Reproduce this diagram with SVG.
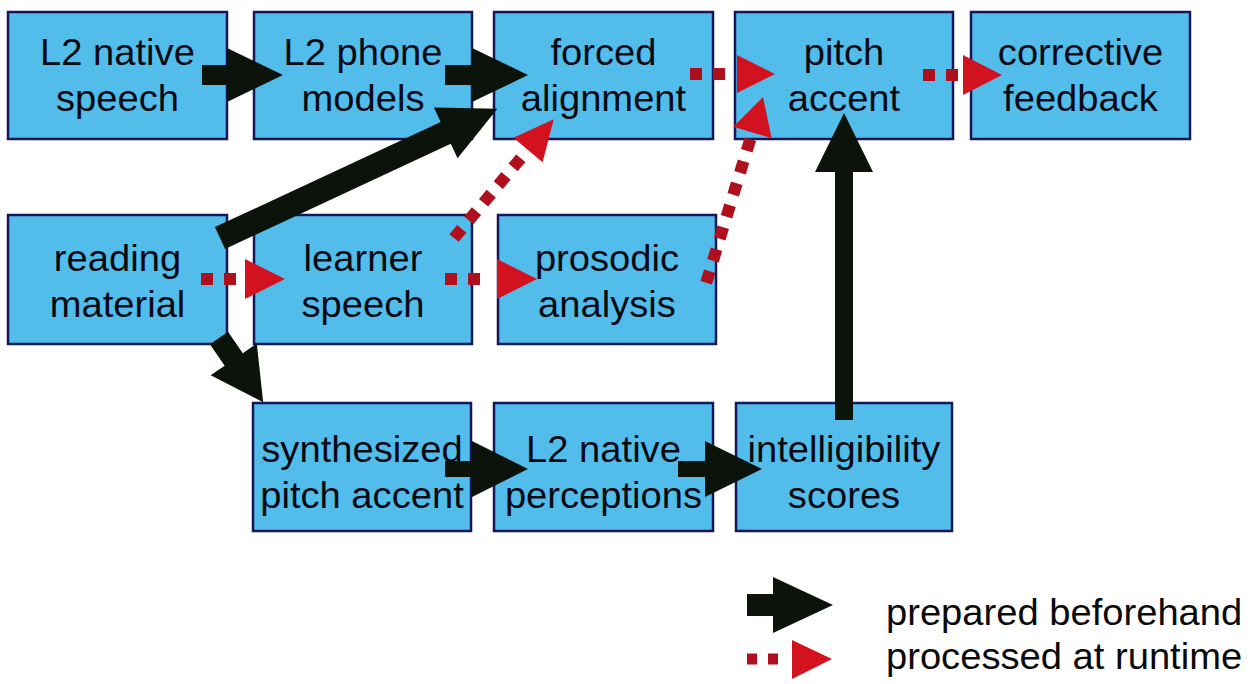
<svg xmlns="http://www.w3.org/2000/svg" width="1253" height="684" viewBox="0 0 1253 684">
  <style>
    .box { fill: #52bdea; stroke: #16165a; stroke-width: 2.5; }
    .lbl { font-family: "Liberation Sans", Arial, sans-serif; font-size: 36px; fill: #0a0a14; text-anchor: middle;
           transform-box: fill-box; transform-origin: center; transform: scaleX(1.06); }
    .leg { font-family: "Liberation Sans", Arial, sans-serif; font-size: 36px; fill: #0a0a0a;
           transform-box: fill-box; transform-origin: left center; transform: scaleX(1.06); }
    .solid { fill: #0b130b; }
    .dots { stroke: #b0101e; stroke-width: 12; stroke-dasharray: 12 11; fill: none; }
    .head { fill: #d3121f; }
  </style>
  <rect width="1253" height="684" fill="#ffffff"/>

  <!-- row 1 -->
  <g id="l2-native-speech">
    <rect class="box" x="8" y="12" width="219" height="127"/>
    <text class="lbl" x="117.5" y="65">L2 native</text>
    <text class="lbl" x="117.5" y="111">speech</text>
  </g>
  <g id="l2-phone-models">
    <rect class="box" x="254" y="12" width="218" height="127"/>
    <text class="lbl" x="363" y="65">L2 phone</text>
    <text class="lbl" x="363" y="111">models</text>
  </g>
  <g id="forced-alignment">
    <rect class="box" x="494" y="12" width="219" height="127"/>
    <text class="lbl" x="603.5" y="65">forced</text>
    <text class="lbl" x="603.5" y="111">alignment</text>
  </g>
  <g id="pitch-accent">
    <rect class="box" x="735" y="12" width="218" height="127"/>
    <text class="lbl" x="844" y="65">pitch</text>
    <text class="lbl" x="844" y="111">accent</text>
  </g>
  <g id="corrective-feedback">
    <rect class="box" x="971" y="12" width="219" height="127"/>
    <text class="lbl" x="1080.5" y="65">corrective</text>
    <text class="lbl" x="1080.5" y="111">feedback</text>
  </g>

  <!-- row 2 -->
  <g id="reading-material">
    <rect class="box" x="8" y="215" width="219" height="129"/>
    <text class="lbl" x="117.5" y="271">reading</text>
    <text class="lbl" x="117.5" y="317">material</text>
  </g>
  <g id="learner-speech">
    <rect class="box" x="254" y="215" width="218" height="129"/>
    <text class="lbl" x="363" y="271">learner</text>
    <text class="lbl" x="363" y="317">speech</text>
  </g>
  <g id="prosodic-analysis">
    <rect class="box" x="498" y="215" width="218" height="129"/>
    <text class="lbl" x="607" y="271">prosodic</text>
    <text class="lbl" x="607" y="317">analysis</text>
  </g>

  <!-- row 3 -->
  <g id="synthesized-pitch-accent">
    <rect class="box" x="253" y="403" width="218" height="128"/>
    <text class="lbl" x="362" y="462">synthesized</text>
    <text class="lbl" x="362" y="508">pitch accent</text>
  </g>
  <g id="l2-native-perceptions">
    <rect class="box" x="494" y="403" width="219" height="128"/>
    <text class="lbl" x="603.5" y="462">L2 native</text>
    <text class="lbl" x="603.5" y="508">perceptions</text>
  </g>
  <g id="intelligibility-scores">
    <rect class="box" x="736" y="403" width="216" height="128"/>
    <text class="lbl" x="844" y="462">intelligibility</text>
    <text class="lbl" x="844" y="508">scores</text>
  </g>

  <!-- connectors -->
  <g id="connectors">
    <!-- prepared beforehand: solid block arrows -->
    <polygon class="solid" transform="translate(202,75)" points="0,-10 25,-10 25,-27 81,0 25,27 25,10 0,10"/>
    <polygon class="solid" transform="translate(445,75)" points="0,-10 27,-10 27,-27 83,0 27,27 27,10 0,10"/>
    <polygon class="solid" transform="translate(220,238) rotate(-24.97)" points="0,-12 249,-12 249,-28 306,0 249,28 249,12 0,12"/>
    <polygon class="solid" transform="translate(219,338) rotate(55.5)" points="0,-11 26,-11 26,-28 78,0 26,28 26,11 0,11"/>
    <polygon class="solid" transform="translate(445,469)" points="0,-8 27,-8 27,-28 83,0 27,28 27,8 0,8"/>
    <polygon class="solid" transform="translate(678,469)" points="0,-8 27,-8 27,-28 84,0 27,28 27,8 0,8"/>
    <polygon class="solid" transform="translate(844,420) rotate(-90)" points="0,-9 248,-9 248,-29 307,0 248,29 248,9 0,9"/>

    <!-- processed at runtime: dotted arrows -->
    <line class="dots" x1="690" y1="74" x2="725" y2="74"/>
    <polygon class="head" points="737,55 775,74 737,93"/>
    <line class="dots" x1="923" y1="75" x2="958" y2="75"/>
    <polygon class="head" points="963,55 1002,75 963,95"/>
    <line class="dots" x1="201" y1="279" x2="236" y2="279"/>
    <polygon class="head" points="245,259 285,279 245,299"/>
    <line class="dots" x1="445" y1="279" x2="480" y2="279"/>
    <polygon class="head" points="497,259 537,279 497,299"/>
    <line class="dots" x1="454" y1="238" x2="521" y2="158"/>
    <polygon class="head" transform="translate(528,150) rotate(-50)" points="0,-19 40,0 0,19"/>
    <line class="dots" x1="706.2" y1="282.7" x2="750.3" y2="139.3"/>
    <polygon class="head" transform="translate(752.5,132.5) rotate(-73.5)" points="0,-20 37,0 0,20"/>
  </g>

  <!-- legend -->
  <g id="legend">
    <polygon class="solid" transform="translate(747,605)" points="0,-11 26,-11 26,-28 86,0 26,28 26,11 0,11"/>
    <text class="leg" x="886" y="625">prepared beforehand</text>
    <line class="dots" x1="747" y1="659" x2="778" y2="659" style="stroke-width:11;stroke-dasharray:10 11"/>
    <polygon class="head" points="792,640 832,659 792,679"/>
    <text class="leg" x="886" y="669">processed at runtime</text>
  </g>
</svg>
